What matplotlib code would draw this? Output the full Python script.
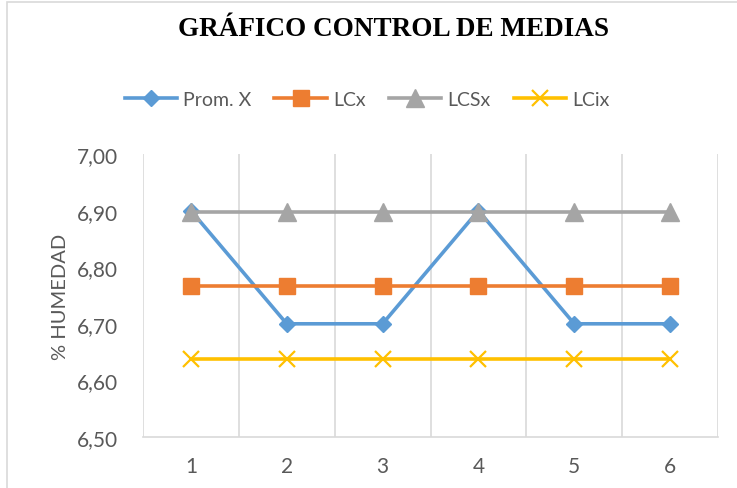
import numpy as np
import matplotlib
matplotlib.use("Agg")
import matplotlib.pyplot as plt
from matplotlib.patches import Rectangle
from matplotlib.ticker import FuncFormatter

# datos
muestras = [1, 2, 3, 4, 5, 6]
prom_x = [6.90, 6.70, 6.70, 6.90, 6.70, 6.70]
lcx = [6.767] * 6
lcsx = [6.897] * 6
lcix = [6.637] * 6

txt = "#595959"
plt.rcParams['font.family'] = ['Lato', 'DejaVu Sans']

fig = plt.figure(figsize=(7.37, 4.89), dpi=100)
ax = fig.add_axes([143/737, 1 - 438/489, (718 - 143)/737, (438 - 155)/489])

ax.plot(muestras, prom_x, color="#5B9BD5", lw=2.6, marker="D", ms=8.5, label="Prom. X", zorder=3)
ax.plot(muestras, lcx, color="#ED7D31", lw=2.6, marker="s", ms=12, label="LCx", zorder=4)
ax.plot(muestras, lcsx, color="#A5A5A5", lw=2.6, marker="^", ms=13, label="LCSx", zorder=5)
ax.plot(muestras, lcix, color="#FFC000", lw=2.6, marker="x", ms=12, mew=1.6, label="LCix", zorder=6)

ax.set_xlim(0.5, 6.5)
ax.set_ylim(6.5, 7.0)
ax.set_yticks(np.arange(6.5, 7.001, 0.1))
ax.yaxis.set_major_formatter(FuncFormatter(lambda v, p: f"{v:.2f}".replace(".", ",")))
ax.set_xticks(muestras)
for xg in np.arange(0.5, 7.0, 1.0):
    ax.axvline(xg, color="#D9D9D9", lw=1.2, zorder=1)

for s in ["top", "right", "left"]:
    ax.spines[s].set_visible(False)
ax.spines["bottom"].set_color("#D9D9D9")
ax.spines["bottom"].set_linewidth(1.2)
ax.tick_params(axis="both", length=0, labelsize=15, colors=txt)
ax.tick_params(axis="y", pad=18)
ax.tick_params(axis="x", pad=14)
ax.set_ylabel("% HUMEDAD", fontsize=14.5, color=txt, labelpad=6)

fig.text(393/737, 1 - 30/489, "GRÁFICO CONTROL DE MEDIAS", ha="center", va="center",
         fontsize=19.5, fontweight="bold", family="Liberation Serif")

fig.legend(loc="center", bbox_to_anchor=(367/737, 1 - 100/489), ncol=4, frameon=False,
           fontsize=14, handlelength=2.7, columnspacing=1.2, handletextpad=0.3,
           labelcolor=txt)

fig.patches.append(Rectangle((7/737, -0.1), 1.2, 1.1 - 3/489, transform=fig.transFigure,
                             fill=False, edgecolor="#D9D9D9", lw=1.2))

fig.savefig("out.png", dpi=100)
